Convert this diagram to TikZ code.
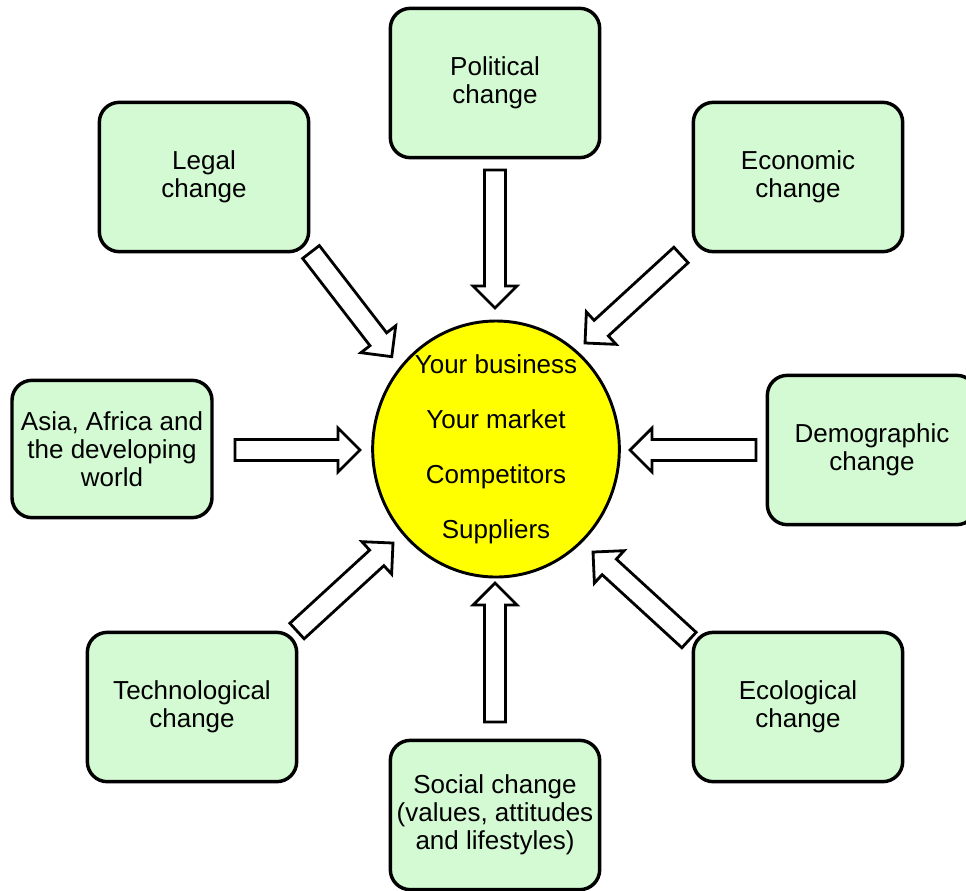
\documentclass[tikz,border=0pt]{standalone}
\usepackage{fontspec}
\setmainfont{Liberation Sans}
\usetikzlibrary{shapes.geometric}
\definecolor{boxgreen}{RGB}{212,250,212}
\definecolor{sunyellow}{RGB}{255,255,0}
\tikzset{
  factor/.style={draw=black, line width=2.6pt, fill=boxgreen, rounded corners=15pt,
    minimum width=157pt, minimum height=112pt, align=center, inner sep=2pt,
    font=\fontsize{19.5}{21}\selectfont},
  core/.style={draw=black, line width=2.2pt, fill=sunyellow, ellipse, minimum width=185pt,
    minimum height=192pt, inner sep=0pt},
  coretext/.style={align=center, inner sep=0pt, font=\fontsize{19.5}{41.2}\selectfont},
  barrow/.style={draw=black, line width=2.1pt, fill=white, line join=miter},
}
\newcommand\blockarrow[2]{%
  \pgfpointdiff{\pgfpointanchor{#1}{center}}{\pgfpointanchor{#2}{center}}%
  \pgfgetlastxy\bdx\bdy
  \pgfmathsetmacro\bang{atan2(\bdy,\bdx)}%
  \pgfmathsetmacro\blen{veclen(\bdx,\bdy)}%
  \pgfmathsetmacro\bhs{\blen-16.5}%
  \begin{scope}[shift={(#1)}, rotate=\bang]
    \draw[barrow] (0pt,-7.9pt) -- (\bhs pt,-7.9pt) -- (\bhs pt,-16.5pt) -- (\blen pt,0pt)
      -- (\bhs pt,16.5pt) -- (\bhs pt,7.9pt) -- (0pt,7.9pt) -- cycle;
  \end{scope}}
\begin{document}
\begin{tikzpicture}[x=0.75pt,y=-0.75pt]
\useasboundingbox (0,0) rectangle (966,890);
\clip (0,0) rectangle (966,890);
\node[factor] (pol) at (495,83) {Political\\change};
\node[factor] (leg) at (204,177) {Legal\\change};
\node[factor] (eco) at (798,177) {Economic\\change};
\node[factor, minimum width=150pt, minimum height=103pt] (asia) at (112,449) {Asia, Africa and\\the developing\\world};
\node[factor] (dem) at (872,450) {Demographic\\change};
\node[factor] (tec) at (192,707) {Technological\\change};
\node[factor] (ecl) at (798,707) {Ecological\\change};
\node[factor] (soc) at (495,815) {Social change\\(values, attitudes\\and lifestyles)};
\node[core] (biz) at (496,449) {};
\node[coretext] (biztext) at (biz.center) {Your business\\Your market\\Competitors\\Suppliers};
\coordinate (polA) at (495,170); \coordinate (polB) at (495,308);
\coordinate (socA) at (495,722); \coordinate (socB) at (495,583);
\coordinate (legA) at (311,252); \coordinate (legB) at (392,357);
\coordinate (ecoA) at (681,255); \coordinate (ecoB) at (585,343);
\coordinate (asiaA) at (235,450); \coordinate (asiaB) at (360,450);
\coordinate (demA) at (756,450); \coordinate (demB) at (630,450);
\coordinate (tecA) at (297,631); \coordinate (tecB) at (393,543);
\coordinate (eclA) at (689,640); \coordinate (eclB) at (593,552);
\blockarrow{polA}{polB}
\blockarrow{socA}{socB}
\blockarrow{legA}{legB}
\blockarrow{ecoA}{ecoB}
\blockarrow{asiaA}{asiaB}
\blockarrow{demA}{demB}
\blockarrow{tecA}{tecB}
\blockarrow{eclA}{eclB}
\end{tikzpicture}
\end{document}
